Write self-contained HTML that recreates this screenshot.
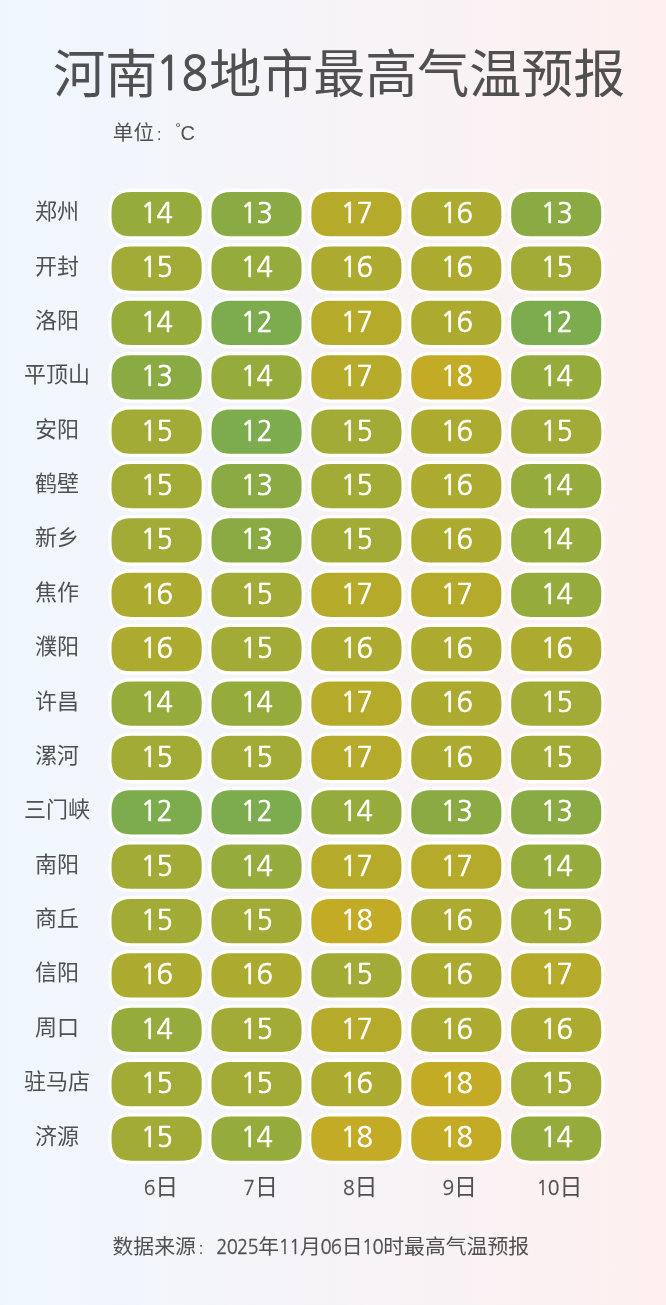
<!DOCTYPE html>
<html lang="zh-CN">
<head>
<meta charset="utf-8">
<title>河南18地市最高气温预报</title>
<style>
html,body{margin:0;padding:0;}
body{width:666px;height:1305px;overflow:hidden;background:linear-gradient(90deg,#eff7fe 0%,#fef0f0 100%);}
svg{display:block;}
text{font-family:"Liberation Sans", "Noto Sans CJK SC", sans-serif;fill:#505050;white-space:pre;}
.g{font-family:"NanumGothic", "Liberation Sans", sans-serif;stroke:#505050;}
.n{font-family:"NanumGothic", "Liberation Sans", sans-serif;fill:#fff;stroke:#fff;}
.c{text-anchor:middle;}
.l{font-family:"Liberation Sans",sans-serif;}
.b{stroke:#fff;stroke-width:3.3;}
</style>
</head>
<body>
<svg width="666" height="1305" viewBox="0 0 666 1305">
<text y="93.4" font-size="52"><tspan x="53.3">河南</tspan></text><text class="g" transform="translate(155.68 90.05) scale(0.93 1)" font-size="46.2" letter-spacing="-0.04" stroke-width="1.15">18</text><text y="93.4" font-size="52"><tspan x="209.3">地市最高气温预报</tspan></text>
<text y="140.3" font-size="20.6"><tspan x="112.8">单位</tspan><tspan x="156.92" font-size="16.07">:</tspan><tspan class="l" x="175.2" y="132.7" font-size="14">°</tspan><tspan class="l" x="180.4" y="139.9" font-size="20">C</tspan></text>
<text class="c" x="57" y="219.15" font-size="22">郑州</text>
<path class="b" fill="#95ac3c" d="M130.9 190.4H182.3Q203.3 190.4 203.3 211.4V216.9Q203.3 237.9 182.3 237.9H130.9Q109.9 237.9 109.9 216.9V211.4Q109.9 190.4 130.9 190.4Z"/><text class="n" transform="translate(140.81 223) scale(0.96 1)" font-size="28.1" letter-spacing="-0.75" stroke-width="0.7">14</text>
<path class="b" fill="#8aab44" d="M230.8 190.4H282.2Q303.2 190.4 303.2 211.4V216.9Q303.2 237.9 282.2 237.9H230.8Q209.8 237.9 209.8 216.9V211.4Q209.8 190.4 230.8 190.4Z"/><text class="n" transform="translate(240.81 223) scale(0.96 1)" font-size="28.1" letter-spacing="-0.75" stroke-width="0.7">13</text>
<path class="b" fill="#b6aa2a" d="M330.7 190.4H382.1Q403.1 190.4 403.1 211.4V216.9Q403.1 237.9 382.1 237.9H330.7Q309.7 237.9 309.7 216.9V211.4Q309.7 190.4 330.7 190.4Z"/><text class="n" transform="translate(340.81 223) scale(0.96 1)" font-size="28.1" letter-spacing="-0.75" stroke-width="0.7">17</text>
<path class="b" fill="#acab30" d="M430.6 190.4H482Q503 190.4 503 211.4V216.9Q503 237.9 482 237.9H430.6Q409.6 237.9 409.6 216.9V211.4Q409.6 190.4 430.6 190.4Z"/><text class="n" transform="translate(440.81 223) scale(0.96 1)" font-size="28.1" letter-spacing="-0.75" stroke-width="0.7">16</text>
<path class="b" fill="#8aab44" d="M530.5 190.4H581.9Q602.9 190.4 602.9 211.4V216.9Q602.9 237.9 581.9 237.9H530.5Q509.5 237.9 509.5 216.9V211.4Q509.5 190.4 530.5 190.4Z"/><text class="n" transform="translate(540.81 223) scale(0.96 1)" font-size="28.1" letter-spacing="-0.75" stroke-width="0.7">13</text>
<text class="c" x="57" y="273.53" font-size="22">开封</text>
<path class="b" fill="#a1ab35" d="M130.9 244.78H182.3Q203.3 244.78 203.3 265.78V271.28Q203.3 292.28 182.3 292.28H130.9Q109.9 292.28 109.9 271.28V265.78Q109.9 244.78 130.9 244.78Z"/><text class="n" transform="translate(140.81 277.38) scale(0.96 1)" font-size="28.1" letter-spacing="-0.75" stroke-width="0.7">15</text>
<path class="b" fill="#95ac3c" d="M230.8 244.78H282.2Q303.2 244.78 303.2 265.78V271.28Q303.2 292.28 282.2 292.28H230.8Q209.8 292.28 209.8 271.28V265.78Q209.8 244.78 230.8 244.78Z"/><text class="n" transform="translate(240.81 277.38) scale(0.96 1)" font-size="28.1" letter-spacing="-0.75" stroke-width="0.7">14</text>
<path class="b" fill="#acab30" d="M330.7 244.78H382.1Q403.1 244.78 403.1 265.78V271.28Q403.1 292.28 382.1 292.28H330.7Q309.7 292.28 309.7 271.28V265.78Q309.7 244.78 330.7 244.78Z"/><text class="n" transform="translate(340.81 277.38) scale(0.96 1)" font-size="28.1" letter-spacing="-0.75" stroke-width="0.7">16</text>
<path class="b" fill="#acab30" d="M430.6 244.78H482Q503 244.78 503 265.78V271.28Q503 292.28 482 292.28H430.6Q409.6 292.28 409.6 271.28V265.78Q409.6 244.78 430.6 244.78Z"/><text class="n" transform="translate(440.81 277.38) scale(0.96 1)" font-size="28.1" letter-spacing="-0.75" stroke-width="0.7">16</text>
<path class="b" fill="#a1ab35" d="M530.5 244.78H581.9Q602.9 244.78 602.9 265.78V271.28Q602.9 292.28 581.9 292.28H530.5Q509.5 292.28 509.5 271.28V265.78Q509.5 244.78 530.5 244.78Z"/><text class="n" transform="translate(540.81 277.38) scale(0.96 1)" font-size="28.1" letter-spacing="-0.75" stroke-width="0.7">15</text>
<text class="c" x="57" y="327.9" font-size="22">洛阳</text>
<path class="b" fill="#95ac3c" d="M130.9 299.15H182.3Q203.3 299.15 203.3 320.15V325.65Q203.3 346.65 182.3 346.65H130.9Q109.9 346.65 109.9 325.65V320.15Q109.9 299.15 130.9 299.15Z"/><text class="n" transform="translate(140.81 331.75) scale(0.96 1)" font-size="28.1" letter-spacing="-0.75" stroke-width="0.7">14</text>
<path class="b" fill="#7cac4e" d="M230.8 299.15H282.2Q303.2 299.15 303.2 320.15V325.65Q303.2 346.65 282.2 346.65H230.8Q209.8 346.65 209.8 325.65V320.15Q209.8 299.15 230.8 299.15Z"/><text class="n" transform="translate(240.81 331.75) scale(0.96 1)" font-size="28.1" letter-spacing="-0.75" stroke-width="0.7">12</text>
<path class="b" fill="#b6aa2a" d="M330.7 299.15H382.1Q403.1 299.15 403.1 320.15V325.65Q403.1 346.65 382.1 346.65H330.7Q309.7 346.65 309.7 325.65V320.15Q309.7 299.15 330.7 299.15Z"/><text class="n" transform="translate(340.81 331.75) scale(0.96 1)" font-size="28.1" letter-spacing="-0.75" stroke-width="0.7">17</text>
<path class="b" fill="#acab30" d="M430.6 299.15H482Q503 299.15 503 320.15V325.65Q503 346.65 482 346.65H430.6Q409.6 346.65 409.6 325.65V320.15Q409.6 299.15 430.6 299.15Z"/><text class="n" transform="translate(440.81 331.75) scale(0.96 1)" font-size="28.1" letter-spacing="-0.75" stroke-width="0.7">16</text>
<path class="b" fill="#7cac4e" d="M530.5 299.15H581.9Q602.9 299.15 602.9 320.15V325.65Q602.9 346.65 581.9 346.65H530.5Q509.5 346.65 509.5 325.65V320.15Q509.5 299.15 530.5 299.15Z"/><text class="n" transform="translate(540.81 331.75) scale(0.96 1)" font-size="28.1" letter-spacing="-0.75" stroke-width="0.7">12</text>
<text class="c" x="57" y="382.28" font-size="22">平顶山</text>
<path class="b" fill="#8aab44" d="M130.9 353.53H182.3Q203.3 353.53 203.3 374.53V380.03Q203.3 401.03 182.3 401.03H130.9Q109.9 401.03 109.9 380.03V374.53Q109.9 353.53 130.9 353.53Z"/><text class="n" transform="translate(140.81 386.13) scale(0.96 1)" font-size="28.1" letter-spacing="-0.75" stroke-width="0.7">13</text>
<path class="b" fill="#95ac3c" d="M230.8 353.53H282.2Q303.2 353.53 303.2 374.53V380.03Q303.2 401.03 282.2 401.03H230.8Q209.8 401.03 209.8 380.03V374.53Q209.8 353.53 230.8 353.53Z"/><text class="n" transform="translate(240.81 386.13) scale(0.96 1)" font-size="28.1" letter-spacing="-0.75" stroke-width="0.7">14</text>
<path class="b" fill="#b6aa2a" d="M330.7 353.53H382.1Q403.1 353.53 403.1 374.53V380.03Q403.1 401.03 382.1 401.03H330.7Q309.7 401.03 309.7 380.03V374.53Q309.7 353.53 330.7 353.53Z"/><text class="n" transform="translate(340.81 386.13) scale(0.96 1)" font-size="28.1" letter-spacing="-0.75" stroke-width="0.7">17</text>
<path class="b" fill="#c4ab25" d="M430.6 353.53H482Q503 353.53 503 374.53V380.03Q503 401.03 482 401.03H430.6Q409.6 401.03 409.6 380.03V374.53Q409.6 353.53 430.6 353.53Z"/><text class="n" transform="translate(440.81 386.13) scale(0.96 1)" font-size="28.1" letter-spacing="-0.75" stroke-width="0.7">18</text>
<path class="b" fill="#95ac3c" d="M530.5 353.53H581.9Q602.9 353.53 602.9 374.53V380.03Q602.9 401.03 581.9 401.03H530.5Q509.5 401.03 509.5 380.03V374.53Q509.5 353.53 530.5 353.53Z"/><text class="n" transform="translate(540.81 386.13) scale(0.96 1)" font-size="28.1" letter-spacing="-0.75" stroke-width="0.7">14</text>
<text class="c" x="57" y="436.65" font-size="22">安阳</text>
<path class="b" fill="#a1ab35" d="M130.9 407.9H182.3Q203.3 407.9 203.3 428.9V434.4Q203.3 455.4 182.3 455.4H130.9Q109.9 455.4 109.9 434.4V428.9Q109.9 407.9 130.9 407.9Z"/><text class="n" transform="translate(140.81 440.5) scale(0.96 1)" font-size="28.1" letter-spacing="-0.75" stroke-width="0.7">15</text>
<path class="b" fill="#7cac4e" d="M230.8 407.9H282.2Q303.2 407.9 303.2 428.9V434.4Q303.2 455.4 282.2 455.4H230.8Q209.8 455.4 209.8 434.4V428.9Q209.8 407.9 230.8 407.9Z"/><text class="n" transform="translate(240.81 440.5) scale(0.96 1)" font-size="28.1" letter-spacing="-0.75" stroke-width="0.7">12</text>
<path class="b" fill="#a1ab35" d="M330.7 407.9H382.1Q403.1 407.9 403.1 428.9V434.4Q403.1 455.4 382.1 455.4H330.7Q309.7 455.4 309.7 434.4V428.9Q309.7 407.9 330.7 407.9Z"/><text class="n" transform="translate(340.81 440.5) scale(0.96 1)" font-size="28.1" letter-spacing="-0.75" stroke-width="0.7">15</text>
<path class="b" fill="#acab30" d="M430.6 407.9H482Q503 407.9 503 428.9V434.4Q503 455.4 482 455.4H430.6Q409.6 455.4 409.6 434.4V428.9Q409.6 407.9 430.6 407.9Z"/><text class="n" transform="translate(440.81 440.5) scale(0.96 1)" font-size="28.1" letter-spacing="-0.75" stroke-width="0.7">16</text>
<path class="b" fill="#a1ab35" d="M530.5 407.9H581.9Q602.9 407.9 602.9 428.9V434.4Q602.9 455.4 581.9 455.4H530.5Q509.5 455.4 509.5 434.4V428.9Q509.5 407.9 530.5 407.9Z"/><text class="n" transform="translate(540.81 440.5) scale(0.96 1)" font-size="28.1" letter-spacing="-0.75" stroke-width="0.7">15</text>
<text class="c" x="57" y="491.03" font-size="22">鹤壁</text>
<path class="b" fill="#a1ab35" d="M130.9 462.28H182.3Q203.3 462.28 203.3 483.28V488.78Q203.3 509.78 182.3 509.78H130.9Q109.9 509.78 109.9 488.78V483.28Q109.9 462.28 130.9 462.28Z"/><text class="n" transform="translate(140.81 494.88) scale(0.96 1)" font-size="28.1" letter-spacing="-0.75" stroke-width="0.7">15</text>
<path class="b" fill="#8aab44" d="M230.8 462.28H282.2Q303.2 462.28 303.2 483.28V488.78Q303.2 509.78 282.2 509.78H230.8Q209.8 509.78 209.8 488.78V483.28Q209.8 462.28 230.8 462.28Z"/><text class="n" transform="translate(240.81 494.88) scale(0.96 1)" font-size="28.1" letter-spacing="-0.75" stroke-width="0.7">13</text>
<path class="b" fill="#a1ab35" d="M330.7 462.28H382.1Q403.1 462.28 403.1 483.28V488.78Q403.1 509.78 382.1 509.78H330.7Q309.7 509.78 309.7 488.78V483.28Q309.7 462.28 330.7 462.28Z"/><text class="n" transform="translate(340.81 494.88) scale(0.96 1)" font-size="28.1" letter-spacing="-0.75" stroke-width="0.7">15</text>
<path class="b" fill="#acab30" d="M430.6 462.28H482Q503 462.28 503 483.28V488.78Q503 509.78 482 509.78H430.6Q409.6 509.78 409.6 488.78V483.28Q409.6 462.28 430.6 462.28Z"/><text class="n" transform="translate(440.81 494.88) scale(0.96 1)" font-size="28.1" letter-spacing="-0.75" stroke-width="0.7">16</text>
<path class="b" fill="#95ac3c" d="M530.5 462.28H581.9Q602.9 462.28 602.9 483.28V488.78Q602.9 509.78 581.9 509.78H530.5Q509.5 509.78 509.5 488.78V483.28Q509.5 462.28 530.5 462.28Z"/><text class="n" transform="translate(540.81 494.88) scale(0.96 1)" font-size="28.1" letter-spacing="-0.75" stroke-width="0.7">14</text>
<text class="c" x="57" y="545.41" font-size="22">新乡</text>
<path class="b" fill="#a1ab35" d="M130.9 516.66H182.3Q203.3 516.66 203.3 537.66V543.16Q203.3 564.16 182.3 564.16H130.9Q109.9 564.16 109.9 543.16V537.66Q109.9 516.66 130.9 516.66Z"/><text class="n" transform="translate(140.81 549.26) scale(0.96 1)" font-size="28.1" letter-spacing="-0.75" stroke-width="0.7">15</text>
<path class="b" fill="#8aab44" d="M230.8 516.66H282.2Q303.2 516.66 303.2 537.66V543.16Q303.2 564.16 282.2 564.16H230.8Q209.8 564.16 209.8 543.16V537.66Q209.8 516.66 230.8 516.66Z"/><text class="n" transform="translate(240.81 549.26) scale(0.96 1)" font-size="28.1" letter-spacing="-0.75" stroke-width="0.7">13</text>
<path class="b" fill="#a1ab35" d="M330.7 516.66H382.1Q403.1 516.66 403.1 537.66V543.16Q403.1 564.16 382.1 564.16H330.7Q309.7 564.16 309.7 543.16V537.66Q309.7 516.66 330.7 516.66Z"/><text class="n" transform="translate(340.81 549.26) scale(0.96 1)" font-size="28.1" letter-spacing="-0.75" stroke-width="0.7">15</text>
<path class="b" fill="#acab30" d="M430.6 516.66H482Q503 516.66 503 537.66V543.16Q503 564.16 482 564.16H430.6Q409.6 564.16 409.6 543.16V537.66Q409.6 516.66 430.6 516.66Z"/><text class="n" transform="translate(440.81 549.26) scale(0.96 1)" font-size="28.1" letter-spacing="-0.75" stroke-width="0.7">16</text>
<path class="b" fill="#95ac3c" d="M530.5 516.66H581.9Q602.9 516.66 602.9 537.66V543.16Q602.9 564.16 581.9 564.16H530.5Q509.5 564.16 509.5 543.16V537.66Q509.5 516.66 530.5 516.66Z"/><text class="n" transform="translate(540.81 549.26) scale(0.96 1)" font-size="28.1" letter-spacing="-0.75" stroke-width="0.7">14</text>
<text class="c" x="57" y="599.78" font-size="22">焦作</text>
<path class="b" fill="#acab30" d="M130.9 571.03H182.3Q203.3 571.03 203.3 592.03V597.53Q203.3 618.53 182.3 618.53H130.9Q109.9 618.53 109.9 597.53V592.03Q109.9 571.03 130.9 571.03Z"/><text class="n" transform="translate(140.81 603.63) scale(0.96 1)" font-size="28.1" letter-spacing="-0.75" stroke-width="0.7">16</text>
<path class="b" fill="#a1ab35" d="M230.8 571.03H282.2Q303.2 571.03 303.2 592.03V597.53Q303.2 618.53 282.2 618.53H230.8Q209.8 618.53 209.8 597.53V592.03Q209.8 571.03 230.8 571.03Z"/><text class="n" transform="translate(240.81 603.63) scale(0.96 1)" font-size="28.1" letter-spacing="-0.75" stroke-width="0.7">15</text>
<path class="b" fill="#b6aa2a" d="M330.7 571.03H382.1Q403.1 571.03 403.1 592.03V597.53Q403.1 618.53 382.1 618.53H330.7Q309.7 618.53 309.7 597.53V592.03Q309.7 571.03 330.7 571.03Z"/><text class="n" transform="translate(340.81 603.63) scale(0.96 1)" font-size="28.1" letter-spacing="-0.75" stroke-width="0.7">17</text>
<path class="b" fill="#b6aa2a" d="M430.6 571.03H482Q503 571.03 503 592.03V597.53Q503 618.53 482 618.53H430.6Q409.6 618.53 409.6 597.53V592.03Q409.6 571.03 430.6 571.03Z"/><text class="n" transform="translate(440.81 603.63) scale(0.96 1)" font-size="28.1" letter-spacing="-0.75" stroke-width="0.7">17</text>
<path class="b" fill="#95ac3c" d="M530.5 571.03H581.9Q602.9 571.03 602.9 592.03V597.53Q602.9 618.53 581.9 618.53H530.5Q509.5 618.53 509.5 597.53V592.03Q509.5 571.03 530.5 571.03Z"/><text class="n" transform="translate(540.81 603.63) scale(0.96 1)" font-size="28.1" letter-spacing="-0.75" stroke-width="0.7">14</text>
<text class="c" x="57" y="654.16" font-size="22">濮阳</text>
<path class="b" fill="#acab30" d="M130.9 625.41H182.3Q203.3 625.41 203.3 646.41V651.91Q203.3 672.91 182.3 672.91H130.9Q109.9 672.91 109.9 651.91V646.41Q109.9 625.41 130.9 625.41Z"/><text class="n" transform="translate(140.81 658.01) scale(0.96 1)" font-size="28.1" letter-spacing="-0.75" stroke-width="0.7">16</text>
<path class="b" fill="#a1ab35" d="M230.8 625.41H282.2Q303.2 625.41 303.2 646.41V651.91Q303.2 672.91 282.2 672.91H230.8Q209.8 672.91 209.8 651.91V646.41Q209.8 625.41 230.8 625.41Z"/><text class="n" transform="translate(240.81 658.01) scale(0.96 1)" font-size="28.1" letter-spacing="-0.75" stroke-width="0.7">15</text>
<path class="b" fill="#acab30" d="M330.7 625.41H382.1Q403.1 625.41 403.1 646.41V651.91Q403.1 672.91 382.1 672.91H330.7Q309.7 672.91 309.7 651.91V646.41Q309.7 625.41 330.7 625.41Z"/><text class="n" transform="translate(340.81 658.01) scale(0.96 1)" font-size="28.1" letter-spacing="-0.75" stroke-width="0.7">16</text>
<path class="b" fill="#acab30" d="M430.6 625.41H482Q503 625.41 503 646.41V651.91Q503 672.91 482 672.91H430.6Q409.6 672.91 409.6 651.91V646.41Q409.6 625.41 430.6 625.41Z"/><text class="n" transform="translate(440.81 658.01) scale(0.96 1)" font-size="28.1" letter-spacing="-0.75" stroke-width="0.7">16</text>
<path class="b" fill="#acab30" d="M530.5 625.41H581.9Q602.9 625.41 602.9 646.41V651.91Q602.9 672.91 581.9 672.91H530.5Q509.5 672.91 509.5 651.91V646.41Q509.5 625.41 530.5 625.41Z"/><text class="n" transform="translate(540.81 658.01) scale(0.96 1)" font-size="28.1" letter-spacing="-0.75" stroke-width="0.7">16</text>
<text class="c" x="57" y="708.53" font-size="22">许昌</text>
<path class="b" fill="#95ac3c" d="M130.9 679.78H182.3Q203.3 679.78 203.3 700.78V706.28Q203.3 727.28 182.3 727.28H130.9Q109.9 727.28 109.9 706.28V700.78Q109.9 679.78 130.9 679.78Z"/><text class="n" transform="translate(140.81 712.38) scale(0.96 1)" font-size="28.1" letter-spacing="-0.75" stroke-width="0.7">14</text>
<path class="b" fill="#95ac3c" d="M230.8 679.78H282.2Q303.2 679.78 303.2 700.78V706.28Q303.2 727.28 282.2 727.28H230.8Q209.8 727.28 209.8 706.28V700.78Q209.8 679.78 230.8 679.78Z"/><text class="n" transform="translate(240.81 712.38) scale(0.96 1)" font-size="28.1" letter-spacing="-0.75" stroke-width="0.7">14</text>
<path class="b" fill="#b6aa2a" d="M330.7 679.78H382.1Q403.1 679.78 403.1 700.78V706.28Q403.1 727.28 382.1 727.28H330.7Q309.7 727.28 309.7 706.28V700.78Q309.7 679.78 330.7 679.78Z"/><text class="n" transform="translate(340.81 712.38) scale(0.96 1)" font-size="28.1" letter-spacing="-0.75" stroke-width="0.7">17</text>
<path class="b" fill="#acab30" d="M430.6 679.78H482Q503 679.78 503 700.78V706.28Q503 727.28 482 727.28H430.6Q409.6 727.28 409.6 706.28V700.78Q409.6 679.78 430.6 679.78Z"/><text class="n" transform="translate(440.81 712.38) scale(0.96 1)" font-size="28.1" letter-spacing="-0.75" stroke-width="0.7">16</text>
<path class="b" fill="#a1ab35" d="M530.5 679.78H581.9Q602.9 679.78 602.9 700.78V706.28Q602.9 727.28 581.9 727.28H530.5Q509.5 727.28 509.5 706.28V700.78Q509.5 679.78 530.5 679.78Z"/><text class="n" transform="translate(540.81 712.38) scale(0.96 1)" font-size="28.1" letter-spacing="-0.75" stroke-width="0.7">15</text>
<text class="c" x="57" y="762.91" font-size="22">漯河</text>
<path class="b" fill="#a1ab35" d="M130.9 734.16H182.3Q203.3 734.16 203.3 755.16V760.66Q203.3 781.66 182.3 781.66H130.9Q109.9 781.66 109.9 760.66V755.16Q109.9 734.16 130.9 734.16Z"/><text class="n" transform="translate(140.81 766.76) scale(0.96 1)" font-size="28.1" letter-spacing="-0.75" stroke-width="0.7">15</text>
<path class="b" fill="#a1ab35" d="M230.8 734.16H282.2Q303.2 734.16 303.2 755.16V760.66Q303.2 781.66 282.2 781.66H230.8Q209.8 781.66 209.8 760.66V755.16Q209.8 734.16 230.8 734.16Z"/><text class="n" transform="translate(240.81 766.76) scale(0.96 1)" font-size="28.1" letter-spacing="-0.75" stroke-width="0.7">15</text>
<path class="b" fill="#b6aa2a" d="M330.7 734.16H382.1Q403.1 734.16 403.1 755.16V760.66Q403.1 781.66 382.1 781.66H330.7Q309.7 781.66 309.7 760.66V755.16Q309.7 734.16 330.7 734.16Z"/><text class="n" transform="translate(340.81 766.76) scale(0.96 1)" font-size="28.1" letter-spacing="-0.75" stroke-width="0.7">17</text>
<path class="b" fill="#acab30" d="M430.6 734.16H482Q503 734.16 503 755.16V760.66Q503 781.66 482 781.66H430.6Q409.6 781.66 409.6 760.66V755.16Q409.6 734.16 430.6 734.16Z"/><text class="n" transform="translate(440.81 766.76) scale(0.96 1)" font-size="28.1" letter-spacing="-0.75" stroke-width="0.7">16</text>
<path class="b" fill="#a1ab35" d="M530.5 734.16H581.9Q602.9 734.16 602.9 755.16V760.66Q602.9 781.66 581.9 781.66H530.5Q509.5 781.66 509.5 760.66V755.16Q509.5 734.16 530.5 734.16Z"/><text class="n" transform="translate(540.81 766.76) scale(0.96 1)" font-size="28.1" letter-spacing="-0.75" stroke-width="0.7">15</text>
<text class="c" x="57" y="817.29" font-size="22">三门峡</text>
<path class="b" fill="#7cac4e" d="M130.9 788.54H182.3Q203.3 788.54 203.3 809.54V815.04Q203.3 836.04 182.3 836.04H130.9Q109.9 836.04 109.9 815.04V809.54Q109.9 788.54 130.9 788.54Z"/><text class="n" transform="translate(140.81 821.14) scale(0.96 1)" font-size="28.1" letter-spacing="-0.75" stroke-width="0.7">12</text>
<path class="b" fill="#7cac4e" d="M230.8 788.54H282.2Q303.2 788.54 303.2 809.54V815.04Q303.2 836.04 282.2 836.04H230.8Q209.8 836.04 209.8 815.04V809.54Q209.8 788.54 230.8 788.54Z"/><text class="n" transform="translate(240.81 821.14) scale(0.96 1)" font-size="28.1" letter-spacing="-0.75" stroke-width="0.7">12</text>
<path class="b" fill="#95ac3c" d="M330.7 788.54H382.1Q403.1 788.54 403.1 809.54V815.04Q403.1 836.04 382.1 836.04H330.7Q309.7 836.04 309.7 815.04V809.54Q309.7 788.54 330.7 788.54Z"/><text class="n" transform="translate(340.81 821.14) scale(0.96 1)" font-size="28.1" letter-spacing="-0.75" stroke-width="0.7">14</text>
<path class="b" fill="#8aab44" d="M430.6 788.54H482Q503 788.54 503 809.54V815.04Q503 836.04 482 836.04H430.6Q409.6 836.04 409.6 815.04V809.54Q409.6 788.54 430.6 788.54Z"/><text class="n" transform="translate(440.81 821.14) scale(0.96 1)" font-size="28.1" letter-spacing="-0.75" stroke-width="0.7">13</text>
<path class="b" fill="#8aab44" d="M530.5 788.54H581.9Q602.9 788.54 602.9 809.54V815.04Q602.9 836.04 581.9 836.04H530.5Q509.5 836.04 509.5 815.04V809.54Q509.5 788.54 530.5 788.54Z"/><text class="n" transform="translate(540.81 821.14) scale(0.96 1)" font-size="28.1" letter-spacing="-0.75" stroke-width="0.7">13</text>
<text class="c" x="57" y="871.66" font-size="22">南阳</text>
<path class="b" fill="#a1ab35" d="M130.9 842.91H182.3Q203.3 842.91 203.3 863.91V869.41Q203.3 890.41 182.3 890.41H130.9Q109.9 890.41 109.9 869.41V863.91Q109.9 842.91 130.9 842.91Z"/><text class="n" transform="translate(140.81 875.51) scale(0.96 1)" font-size="28.1" letter-spacing="-0.75" stroke-width="0.7">15</text>
<path class="b" fill="#95ac3c" d="M230.8 842.91H282.2Q303.2 842.91 303.2 863.91V869.41Q303.2 890.41 282.2 890.41H230.8Q209.8 890.41 209.8 869.41V863.91Q209.8 842.91 230.8 842.91Z"/><text class="n" transform="translate(240.81 875.51) scale(0.96 1)" font-size="28.1" letter-spacing="-0.75" stroke-width="0.7">14</text>
<path class="b" fill="#b6aa2a" d="M330.7 842.91H382.1Q403.1 842.91 403.1 863.91V869.41Q403.1 890.41 382.1 890.41H330.7Q309.7 890.41 309.7 869.41V863.91Q309.7 842.91 330.7 842.91Z"/><text class="n" transform="translate(340.81 875.51) scale(0.96 1)" font-size="28.1" letter-spacing="-0.75" stroke-width="0.7">17</text>
<path class="b" fill="#b6aa2a" d="M430.6 842.91H482Q503 842.91 503 863.91V869.41Q503 890.41 482 890.41H430.6Q409.6 890.41 409.6 869.41V863.91Q409.6 842.91 430.6 842.91Z"/><text class="n" transform="translate(440.81 875.51) scale(0.96 1)" font-size="28.1" letter-spacing="-0.75" stroke-width="0.7">17</text>
<path class="b" fill="#95ac3c" d="M530.5 842.91H581.9Q602.9 842.91 602.9 863.91V869.41Q602.9 890.41 581.9 890.41H530.5Q509.5 890.41 509.5 869.41V863.91Q509.5 842.91 530.5 842.91Z"/><text class="n" transform="translate(540.81 875.51) scale(0.96 1)" font-size="28.1" letter-spacing="-0.75" stroke-width="0.7">14</text>
<text class="c" x="57" y="926.04" font-size="22">商丘</text>
<path class="b" fill="#a1ab35" d="M130.9 897.29H182.3Q203.3 897.29 203.3 918.29V923.79Q203.3 944.79 182.3 944.79H130.9Q109.9 944.79 109.9 923.79V918.29Q109.9 897.29 130.9 897.29Z"/><text class="n" transform="translate(140.81 929.89) scale(0.96 1)" font-size="28.1" letter-spacing="-0.75" stroke-width="0.7">15</text>
<path class="b" fill="#a1ab35" d="M230.8 897.29H282.2Q303.2 897.29 303.2 918.29V923.79Q303.2 944.79 282.2 944.79H230.8Q209.8 944.79 209.8 923.79V918.29Q209.8 897.29 230.8 897.29Z"/><text class="n" transform="translate(240.81 929.89) scale(0.96 1)" font-size="28.1" letter-spacing="-0.75" stroke-width="0.7">15</text>
<path class="b" fill="#c4ab25" d="M330.7 897.29H382.1Q403.1 897.29 403.1 918.29V923.79Q403.1 944.79 382.1 944.79H330.7Q309.7 944.79 309.7 923.79V918.29Q309.7 897.29 330.7 897.29Z"/><text class="n" transform="translate(340.81 929.89) scale(0.96 1)" font-size="28.1" letter-spacing="-0.75" stroke-width="0.7">18</text>
<path class="b" fill="#acab30" d="M430.6 897.29H482Q503 897.29 503 918.29V923.79Q503 944.79 482 944.79H430.6Q409.6 944.79 409.6 923.79V918.29Q409.6 897.29 430.6 897.29Z"/><text class="n" transform="translate(440.81 929.89) scale(0.96 1)" font-size="28.1" letter-spacing="-0.75" stroke-width="0.7">16</text>
<path class="b" fill="#a1ab35" d="M530.5 897.29H581.9Q602.9 897.29 602.9 918.29V923.79Q602.9 944.79 581.9 944.79H530.5Q509.5 944.79 509.5 923.79V918.29Q509.5 897.29 530.5 897.29Z"/><text class="n" transform="translate(540.81 929.89) scale(0.96 1)" font-size="28.1" letter-spacing="-0.75" stroke-width="0.7">15</text>
<text class="c" x="57" y="980.41" font-size="22">信阳</text>
<path class="b" fill="#acab30" d="M130.9 951.66H182.3Q203.3 951.66 203.3 972.66V978.16Q203.3 999.16 182.3 999.16H130.9Q109.9 999.16 109.9 978.16V972.66Q109.9 951.66 130.9 951.66Z"/><text class="n" transform="translate(140.81 984.26) scale(0.96 1)" font-size="28.1" letter-spacing="-0.75" stroke-width="0.7">16</text>
<path class="b" fill="#acab30" d="M230.8 951.66H282.2Q303.2 951.66 303.2 972.66V978.16Q303.2 999.16 282.2 999.16H230.8Q209.8 999.16 209.8 978.16V972.66Q209.8 951.66 230.8 951.66Z"/><text class="n" transform="translate(240.81 984.26) scale(0.96 1)" font-size="28.1" letter-spacing="-0.75" stroke-width="0.7">16</text>
<path class="b" fill="#a1ab35" d="M330.7 951.66H382.1Q403.1 951.66 403.1 972.66V978.16Q403.1 999.16 382.1 999.16H330.7Q309.7 999.16 309.7 978.16V972.66Q309.7 951.66 330.7 951.66Z"/><text class="n" transform="translate(340.81 984.26) scale(0.96 1)" font-size="28.1" letter-spacing="-0.75" stroke-width="0.7">15</text>
<path class="b" fill="#acab30" d="M430.6 951.66H482Q503 951.66 503 972.66V978.16Q503 999.16 482 999.16H430.6Q409.6 999.16 409.6 978.16V972.66Q409.6 951.66 430.6 951.66Z"/><text class="n" transform="translate(440.81 984.26) scale(0.96 1)" font-size="28.1" letter-spacing="-0.75" stroke-width="0.7">16</text>
<path class="b" fill="#b6aa2a" d="M530.5 951.66H581.9Q602.9 951.66 602.9 972.66V978.16Q602.9 999.16 581.9 999.16H530.5Q509.5 999.16 509.5 978.16V972.66Q509.5 951.66 530.5 951.66Z"/><text class="n" transform="translate(540.81 984.26) scale(0.96 1)" font-size="28.1" letter-spacing="-0.75" stroke-width="0.7">17</text>
<text class="c" x="57" y="1034.79" font-size="22">周口</text>
<path class="b" fill="#95ac3c" d="M130.9 1006.04H182.3Q203.3 1006.04 203.3 1027.04V1032.54Q203.3 1053.54 182.3 1053.54H130.9Q109.9 1053.54 109.9 1032.54V1027.04Q109.9 1006.04 130.9 1006.04Z"/><text class="n" transform="translate(140.81 1038.64) scale(0.96 1)" font-size="28.1" letter-spacing="-0.75" stroke-width="0.7">14</text>
<path class="b" fill="#a1ab35" d="M230.8 1006.04H282.2Q303.2 1006.04 303.2 1027.04V1032.54Q303.2 1053.54 282.2 1053.54H230.8Q209.8 1053.54 209.8 1032.54V1027.04Q209.8 1006.04 230.8 1006.04Z"/><text class="n" transform="translate(240.81 1038.64) scale(0.96 1)" font-size="28.1" letter-spacing="-0.75" stroke-width="0.7">15</text>
<path class="b" fill="#b6aa2a" d="M330.7 1006.04H382.1Q403.1 1006.04 403.1 1027.04V1032.54Q403.1 1053.54 382.1 1053.54H330.7Q309.7 1053.54 309.7 1032.54V1027.04Q309.7 1006.04 330.7 1006.04Z"/><text class="n" transform="translate(340.81 1038.64) scale(0.96 1)" font-size="28.1" letter-spacing="-0.75" stroke-width="0.7">17</text>
<path class="b" fill="#acab30" d="M430.6 1006.04H482Q503 1006.04 503 1027.04V1032.54Q503 1053.54 482 1053.54H430.6Q409.6 1053.54 409.6 1032.54V1027.04Q409.6 1006.04 430.6 1006.04Z"/><text class="n" transform="translate(440.81 1038.64) scale(0.96 1)" font-size="28.1" letter-spacing="-0.75" stroke-width="0.7">16</text>
<path class="b" fill="#acab30" d="M530.5 1006.04H581.9Q602.9 1006.04 602.9 1027.04V1032.54Q602.9 1053.54 581.9 1053.54H530.5Q509.5 1053.54 509.5 1032.54V1027.04Q509.5 1006.04 530.5 1006.04Z"/><text class="n" transform="translate(540.81 1038.64) scale(0.96 1)" font-size="28.1" letter-spacing="-0.75" stroke-width="0.7">16</text>
<text class="c" x="57" y="1089.17" font-size="22">驻马店</text>
<path class="b" fill="#a1ab35" d="M130.9 1060.42H182.3Q203.3 1060.42 203.3 1081.42V1086.92Q203.3 1107.92 182.3 1107.92H130.9Q109.9 1107.92 109.9 1086.92V1081.42Q109.9 1060.42 130.9 1060.42Z"/><text class="n" transform="translate(140.81 1093.02) scale(0.96 1)" font-size="28.1" letter-spacing="-0.75" stroke-width="0.7">15</text>
<path class="b" fill="#a1ab35" d="M230.8 1060.42H282.2Q303.2 1060.42 303.2 1081.42V1086.92Q303.2 1107.92 282.2 1107.92H230.8Q209.8 1107.92 209.8 1086.92V1081.42Q209.8 1060.42 230.8 1060.42Z"/><text class="n" transform="translate(240.81 1093.02) scale(0.96 1)" font-size="28.1" letter-spacing="-0.75" stroke-width="0.7">15</text>
<path class="b" fill="#acab30" d="M330.7 1060.42H382.1Q403.1 1060.42 403.1 1081.42V1086.92Q403.1 1107.92 382.1 1107.92H330.7Q309.7 1107.92 309.7 1086.92V1081.42Q309.7 1060.42 330.7 1060.42Z"/><text class="n" transform="translate(340.81 1093.02) scale(0.96 1)" font-size="28.1" letter-spacing="-0.75" stroke-width="0.7">16</text>
<path class="b" fill="#c4ab25" d="M430.6 1060.42H482Q503 1060.42 503 1081.42V1086.92Q503 1107.92 482 1107.92H430.6Q409.6 1107.92 409.6 1086.92V1081.42Q409.6 1060.42 430.6 1060.42Z"/><text class="n" transform="translate(440.81 1093.02) scale(0.96 1)" font-size="28.1" letter-spacing="-0.75" stroke-width="0.7">18</text>
<path class="b" fill="#a1ab35" d="M530.5 1060.42H581.9Q602.9 1060.42 602.9 1081.42V1086.92Q602.9 1107.92 581.9 1107.92H530.5Q509.5 1107.92 509.5 1086.92V1081.42Q509.5 1060.42 530.5 1060.42Z"/><text class="n" transform="translate(540.81 1093.02) scale(0.96 1)" font-size="28.1" letter-spacing="-0.75" stroke-width="0.7">15</text>
<text class="c" x="57" y="1143.54" font-size="22">济源</text>
<path class="b" fill="#a1ab35" d="M130.9 1114.79H182.3Q203.3 1114.79 203.3 1135.79V1141.29Q203.3 1162.29 182.3 1162.29H130.9Q109.9 1162.29 109.9 1141.29V1135.79Q109.9 1114.79 130.9 1114.79Z"/><text class="n" transform="translate(140.81 1147.39) scale(0.96 1)" font-size="28.1" letter-spacing="-0.75" stroke-width="0.7">15</text>
<path class="b" fill="#95ac3c" d="M230.8 1114.79H282.2Q303.2 1114.79 303.2 1135.79V1141.29Q303.2 1162.29 282.2 1162.29H230.8Q209.8 1162.29 209.8 1141.29V1135.79Q209.8 1114.79 230.8 1114.79Z"/><text class="n" transform="translate(240.81 1147.39) scale(0.96 1)" font-size="28.1" letter-spacing="-0.75" stroke-width="0.7">14</text>
<path class="b" fill="#c4ab25" d="M330.7 1114.79H382.1Q403.1 1114.79 403.1 1135.79V1141.29Q403.1 1162.29 382.1 1162.29H330.7Q309.7 1162.29 309.7 1141.29V1135.79Q309.7 1114.79 330.7 1114.79Z"/><text class="n" transform="translate(340.81 1147.39) scale(0.96 1)" font-size="28.1" letter-spacing="-0.75" stroke-width="0.7">18</text>
<path class="b" fill="#c4ab25" d="M430.6 1114.79H482Q503 1114.79 503 1135.79V1141.29Q503 1162.29 482 1162.29H430.6Q409.6 1162.29 409.6 1141.29V1135.79Q409.6 1114.79 430.6 1114.79Z"/><text class="n" transform="translate(440.81 1147.39) scale(0.96 1)" font-size="28.1" letter-spacing="-0.75" stroke-width="0.7">18</text>
<path class="b" fill="#95ac3c" d="M530.5 1114.79H581.9Q602.9 1114.79 602.9 1135.79V1141.29Q602.9 1162.29 581.9 1162.29H530.5Q509.5 1162.29 509.5 1141.29V1135.79Q509.5 1114.79 530.5 1114.79Z"/><text class="n" transform="translate(540.81 1147.39) scale(0.96 1)" font-size="28.1" letter-spacing="-0.75" stroke-width="0.7">14</text>
<text class="g" transform="translate(143.71 1195) scale(0.95 1)" font-size="20.3" letter-spacing="-0.25" stroke-width="0.3">6</text><text y="1194.8" font-size="22.9"><tspan x="155.27">日</tspan></text>
<text class="g" transform="translate(243.31 1195) scale(0.95 1)" font-size="20.3" letter-spacing="-0.25" stroke-width="0.3">7</text><text y="1194.8" font-size="22.9"><tspan x="254.88">日</tspan></text>
<text class="g" transform="translate(342.91 1195) scale(0.95 1)" font-size="20.3" letter-spacing="-0.25" stroke-width="0.3">8</text><text y="1194.8" font-size="22.9"><tspan x="354.47">日</tspan></text>
<text class="g" transform="translate(442.51 1195) scale(0.95 1)" font-size="20.3" letter-spacing="-0.25" stroke-width="0.3">9</text><text y="1194.8" font-size="22.9"><tspan x="454.07">日</tspan></text>
<text class="g" transform="translate(536.38 1195) scale(0.95 1)" font-size="20.3" letter-spacing="-0.25" stroke-width="0.3">10</text><text y="1194.8" font-size="22.9"><tspan x="559.4">日</tspan></text>
<text y="1254" font-size="20.83"><tspan x="112.5">数据来源</tspan><tspan x="198.77" font-size="16.25">:</tspan> </text><text class="g" transform="translate(216.27 1253.8) scale(0.97 1)" font-size="19" letter-spacing="-0.78" stroke-width="0.3">2025</text><text y="1254" font-size="20.83"><tspan x="258.31">年</tspan></text><text class="g" transform="translate(278.76 1253.8) scale(0.97 1)" font-size="19" letter-spacing="-0.78" stroke-width="0.3">11</text><text y="1254" font-size="20.83"><tspan x="299.97">月</tspan></text><text class="g" transform="translate(320.42 1253.8) scale(0.97 1)" font-size="19" letter-spacing="-0.78" stroke-width="0.3">06</text><text y="1254" font-size="20.83"><tspan x="341.63">日</tspan></text><text class="g" transform="translate(362.08 1253.8) scale(0.97 1)" font-size="19" letter-spacing="-0.78" stroke-width="0.3">10</text><text y="1254" font-size="20.83"><tspan x="383.29">时最高气温预报</tspan></text>
</svg>
</body>
</html>
